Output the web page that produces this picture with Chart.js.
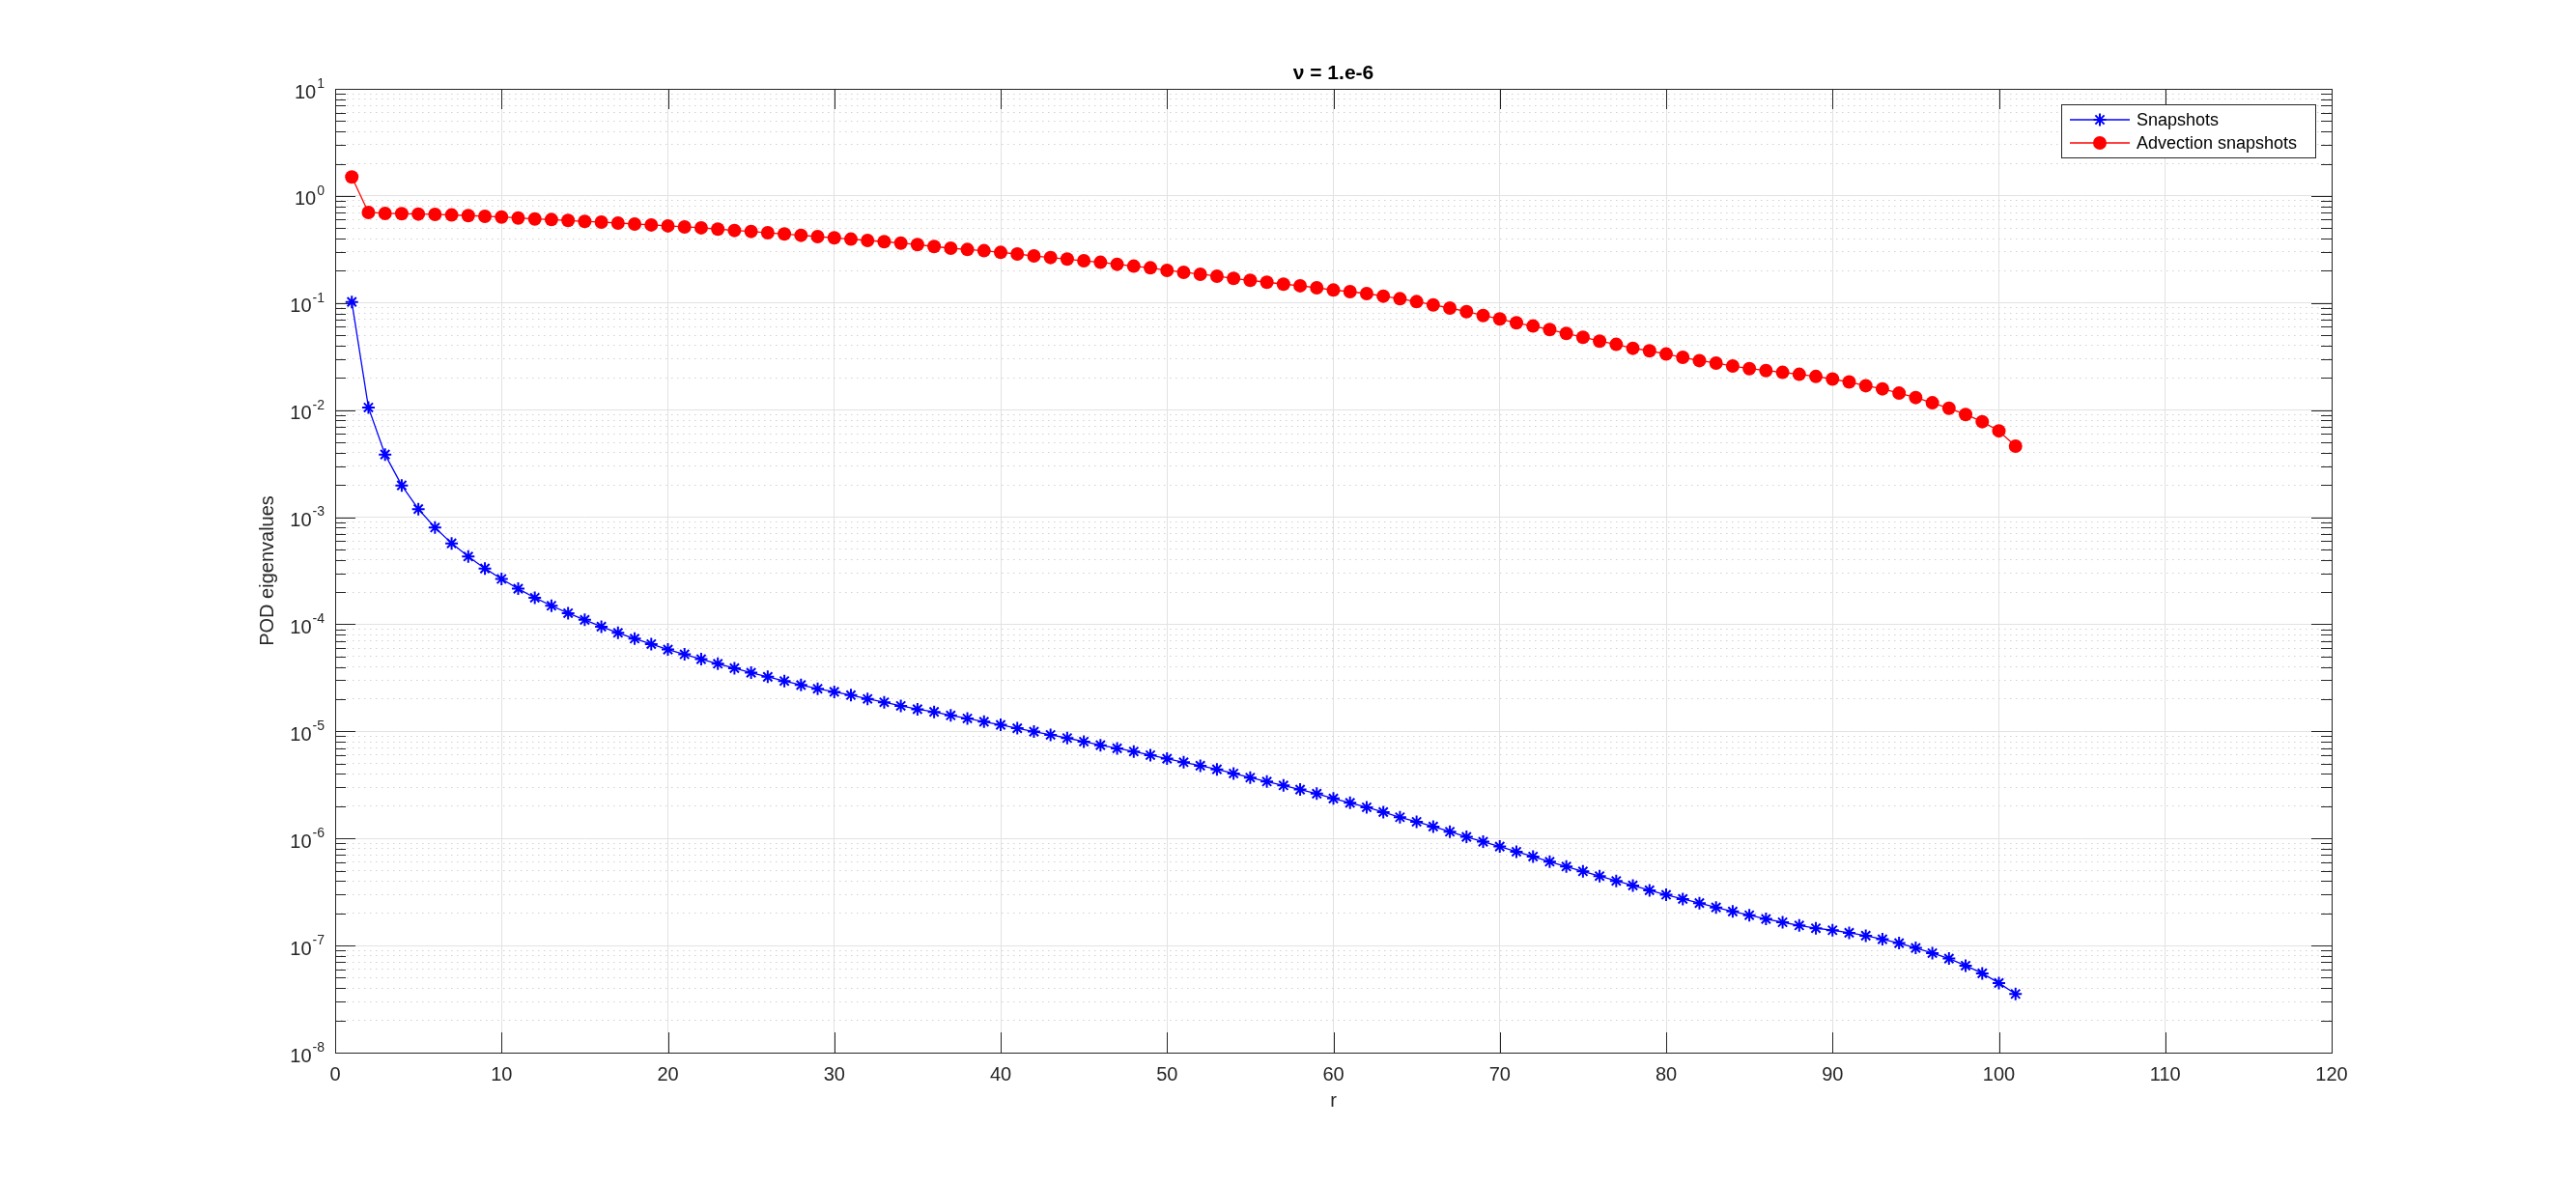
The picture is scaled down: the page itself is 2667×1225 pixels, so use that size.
<!DOCTYPE html>
<html>
<head>
<meta charset="utf-8">
<title>POD eigenvalues</title>
<script src="https://cdn.jsdelivr.net/npm/chart.js@4/dist/chart.umd.min.js"></script>
<style>
  html, body { margin: 0; padding: 0; background: #fff; }
  canvas { display: block; }
</style>
</head>
<body>
<canvas id="pod-chart" width="2667" height="1225"></canvas>
<script>
const modes = Array.from({ length: 101 }, (_, i) => i + 1);

const snapshots = [
  0.1024, 1.058e-2, 3.85e-3, 1.98e-3, 1.19e-3, 8.0e-4, 5.7e-4, 4.29e-4, 3.32e-4, 2.65e-4,
  2.15e-4, 1.77e-4, 1.49e-4, 1.27e-4, 1.10e-4, 9.5e-5, 8.32e-5, 7.35e-5, 6.53e-5, 5.81e-5,
  5.24e-5, 4.72e-5, 4.28e-5, 3.89e-5, 3.53e-5, 3.23e-5, 2.95e-5, 2.71e-5, 2.50e-5, 2.34e-5,
  2.18e-5, 2.01e-5, 1.87e-5, 1.73e-5, 1.61e-5, 1.52e-5, 1.41e-5, 1.32e-5, 1.23e-5, 1.15e-5,
  1.07e-5, 9.95e-6, 9.28e-6, 8.66e-6, 8.02e-6, 7.43e-6, 6.94e-6, 6.48e-6, 6.00e-6, 5.56e-6,
  5.15e-6, 4.78e-6, 4.42e-6, 4.04e-6, 3.70e-6, 3.40e-6, 3.13e-6, 2.86e-6, 2.62e-6, 2.36e-6,
  2.15e-6, 1.955e-6, 1.763e-6, 1.578e-6, 1.432e-6, 1.291e-6, 1.156e-6, 1.034e-6, 9.32e-7, 8.40e-7,
  7.52e-7, 6.78e-7, 6.07e-7, 5.47e-7, 4.93e-7, 4.45e-7, 4.01e-7, 3.64e-7, 3.28e-7, 2.98e-7,
  2.72e-7, 2.49e-7, 2.27e-7, 2.08e-7, 1.92e-7, 1.77e-7, 1.65e-7, 1.54e-7, 1.45e-7, 1.39e-7,
  1.315e-7, 1.236e-7, 1.145e-7, 1.054e-7, 9.50e-8, 8.50e-8, 7.56e-8, 6.49e-8, 5.50e-8, 4.47e-8,
  3.53e-8
];

const advection = [
  1.503, 0.701, 0.687, 0.682, 0.677, 0.673, 0.664, 0.655, 0.646, 0.636,
  0.623, 0.610, 0.602, 0.590, 0.578, 0.570, 0.558, 0.547, 0.536, 0.525,
  0.514, 0.504, 0.490, 0.476, 0.466, 0.453, 0.441, 0.429, 0.417, 0.406,
  0.395, 0.384, 0.374, 0.363, 0.351, 0.337, 0.325, 0.316, 0.308, 0.297,
  0.287, 0.275, 0.266, 0.257, 0.248, 0.240, 0.230, 0.221, 0.213, 0.2018,
  0.1936, 0.1858, 0.1782, 0.1698, 0.1629, 0.1563, 0.1500, 0.1449, 0.1388, 0.1322,
  0.1277, 0.1225, 0.1159, 0.1096, 0.1030, 0.0961, 0.0897, 0.0831, 0.0765, 0.0710,
  0.0653, 0.0610, 0.0565, 0.0520, 0.0479, 0.0441, 0.0411, 0.0378, 0.0358, 0.0334,
  0.0311, 0.0290, 0.0275, 0.0258, 0.0244, 0.0234, 0.0225, 0.0216, 0.0206, 0.0195,
  0.0183, 0.0169, 0.0158, 0.0144, 0.0131, 0.0117, 0.0104, 0.0091, 0.0078, 0.0064,
  0.0046
];

const xTicks = [0, 10, 20, 30, 40, 50, 60, 70, 80, 90, 100, 110, 120];
const yDecades = [-8, -7, -6, -5, -4, -3, -2, -1, 0, 1];

const seriesNames = ['Snapshots', 'Advection snapshots'];
const titleText = 'ν = 1.e-6';
const xTitle = 'r';
const yTitle = 'POD eigenvalues';

const FONT = '"Liberation Sans", Arial, Helvetica, sans-serif';
const AXIS_COLOR = '#262626';

// every 1..9 x 10^k between the first and last decade
function logGridValues() {
  const vals = [];
  for (let i = 0; i < yDecades.length - 1; i++) {
    for (let m = 1; m < 10; m++) vals.push(m * Math.pow(10, yDecades[i]));
  }
  vals.push(Math.pow(10, yDecades[yDecades.length - 1]));
  return vals;
}

function isDecade(v) {
  const l = Math.log10(v);
  return Math.abs(l - Math.round(l)) < 1e-6;
}

function toPoints(values) {
  return values.map((v, i) => ({ x: modes[i], y: v }));
}

function marker(ctx, style, radius, x, y, width) {
  if (Chart.helpers && Chart.helpers.drawPoint) {
    Chart.helpers.drawPoint(ctx, { pointStyle: style, radius: radius, rotation: 0, borderWidth: width }, x, y);
  }
}

const matlabAxes = {
  id: 'matlabAxes',
  beforeDatasetsDraw(chart) {
    const { ctx, chartArea: a, scales } = chart;
    const xs = scales.x, ys = scales.y;
    ctx.save();
    ctx.strokeStyle = AXIS_COLOR;
    ctx.lineWidth = 1;
    ctx.beginPath();
    // inner tick marks, all four sides
    xTicks.forEach(t => {
      const px = Math.round(xs.getPixelForValue(t)) + 0.5;
      ctx.moveTo(px, a.bottom); ctx.lineTo(px, a.bottom - 21);
      ctx.moveTo(px, a.top); ctx.lineTo(px, a.top + 21);
    });
    logGridValues().forEach(v => {
      const py = Math.round(ys.getPixelForValue(v)) + 0.5;
      const len = isDecade(v) ? 21 : 11;
      ctx.moveTo(a.left, py); ctx.lineTo(a.left + len, py);
      ctx.moveTo(a.right, py); ctx.lineTo(a.right - len, py);
    });
    ctx.stroke();
    ctx.strokeRect(Math.round(a.left) + 0.5, Math.round(a.top) + 0.5,
      Math.round(a.right - a.left), Math.round(a.bottom - a.top));
    ctx.restore();
  },
  afterDraw(chart) {
    const { ctx, chartArea: a, scales } = chart;
    const xs = scales.x, ys = scales.y;
    ctx.save();
    ctx.fillStyle = AXIS_COLOR;

    // x tick labels
    ctx.font = '20px ' + FONT;
    ctx.textAlign = 'center';
    ctx.textBaseline = 'middle';
    xTicks.forEach(t => ctx.fillText(String(t), xs.getPixelForValue(t), a.bottom + 23));

    // y tick labels as 10 with raised exponent
    yDecades.forEach(k => {
      const py = ys.getPixelForValue(Math.pow(10, k));
      const right = a.left - 11;
      ctx.font = '14px ' + FONT;
      const exp = String(k);
      const ew = ctx.measureText(exp).width;
      ctx.textAlign = 'left';
      ctx.fillText(exp, right - ew, py - 5);
      ctx.font = '20px ' + FONT;
      ctx.textAlign = 'right';
      ctx.fillText('10', right - ew - 1, py + 4);
    });

    // axis titles and title
    ctx.textAlign = 'center';
    ctx.font = '20px ' + FONT;
    ctx.fillText(xTitle, (a.left + a.right) / 2, a.bottom + 50);
    ctx.save();
    ctx.translate(a.left - 70, (a.top + a.bottom) / 2);
    ctx.rotate(-Math.PI / 2);
    ctx.fillText(yTitle, 0, 0);
    ctx.restore();
    ctx.font = 'bold 21px ' + FONT;
    ctx.fillStyle = '#000';
    ctx.fillText(titleText, (a.left + a.right) / 2, a.top - 16);

    // legend box
    const bx = 2134, by = 108, bw = 263, bh = 55;
    ctx.fillStyle = '#fff';
    ctx.fillRect(bx, by, bw, bh);
    ctx.strokeStyle = AXIS_COLOR;
    ctx.lineWidth = 1;
    ctx.strokeRect(bx + 0.5, by + 0.5, bw, bh);
    const rows = [
      { y: by + 16, color: '#0000ff', style: 'star', r: 6.5, bw: 2 },
      { y: by + 40, color: '#ff0000', style: 'circle', r: 7, bw: 0 }
    ];
    rows.forEach((row, i) => {
      ctx.strokeStyle = row.color;
      ctx.fillStyle = row.color;
      ctx.lineWidth = 1.3;
      ctx.beginPath();
      ctx.moveTo(bx + 9, row.y); ctx.lineTo(bx + 71, row.y);
      ctx.stroke();
      ctx.lineWidth = row.bw;
      marker(ctx, row.style, row.r, bx + 40, row.y, row.bw);
      ctx.fillStyle = '#000';
      ctx.font = '18px ' + FONT;
      ctx.textAlign = 'left';
      ctx.fillText(seriesNames[i], bx + 78, row.y + 1);
    });
    ctx.restore();
  }
};

const ctx = document.getElementById('pod-chart').getContext('2d');
new Chart(ctx, {
  type: 'line',
  data: {
    datasets: [
      {
        label: seriesNames[0],
        data: toPoints(snapshots),
        borderColor: '#0000ff',
        borderWidth: 1.3,
        pointStyle: 'star',
        pointRadius: 6.5,
        pointBorderWidth: 2,
        pointBorderColor: '#0000ff',
        pointBackgroundColor: '#0000ff',
        fill: false,
        tension: 0
      },
      {
        label: seriesNames[1],
        data: toPoints(advection),
        borderColor: '#ff0000',
        borderWidth: 1.3,
        pointStyle: 'circle',
        pointRadius: 7,
        pointBorderWidth: 0,
        pointBackgroundColor: '#ff0000',
        fill: false,
        tension: 0
      }
    ]
  },
  options: {
    responsive: false,
    animation: false,
    devicePixelRatio: 1,
    layout: { padding: { left: 347, top: 92, right: 253, bottom: 135 } },
    plugins: {
      legend: { display: false },
      title: { display: false },
      tooltip: { enabled: false }
    },
    scales: {
      x: {
        type: 'linear',
        min: 0,
        max: 120,
        afterBuildTicks: scale => { scale.ticks = xTicks.map(v => ({ value: v })); },
        ticks: { display: false },
        grid: { color: '#e2e2e2', lineWidth: 1, drawTicks: false },
        border: { display: false }
      },
      y: {
        type: 'logarithmic',
        min: Math.pow(10, yDecades[0]),
        max: Math.pow(10, yDecades[yDecades.length - 1]),
        afterBuildTicks: scale => { scale.ticks = logGridValues().map(v => ({ value: v })); },
        ticks: { display: false, autoSkip: false },
        grid: {
          drawTicks: false,
          lineWidth: 1,
          color: c => (c.tick && isDecade(c.tick.value)) ? '#e2e2e2' : '#d2d2d2'
        },
        border: {
          display: false,
          dash: c => (c.tick && isDecade(c.tick.value)) ? [] : [1.5, 4.5]
        }
      }
    }
  },
  plugins: [matlabAxes]
});
</script>
</body>
</html>
